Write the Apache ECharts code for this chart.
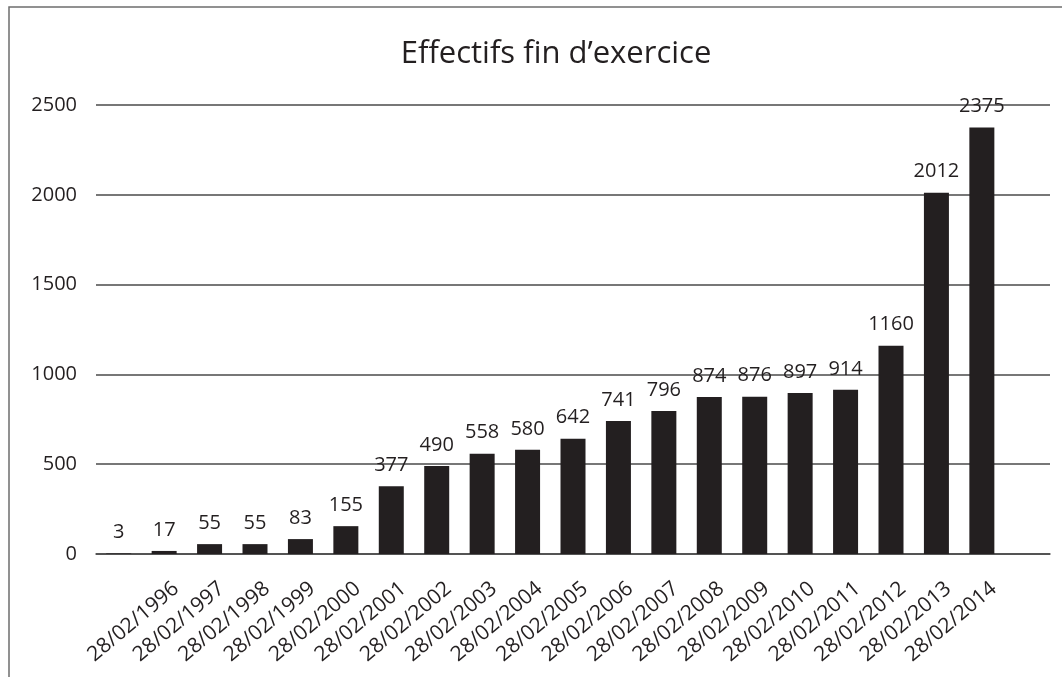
<!DOCTYPE html>
<html>
<head>
<meta charset="utf-8">
<title>Effectifs fin d'exercice</title>
<script src="https://cdn.jsdelivr.net/npm/echarts@6/dist/echarts.min.js"></script>
<style>
  html, body { margin: 0; padding: 0; background: #ffffff; }
  #chart { width: 1062px; height: 677px; }
</style>
</head>
<body>
<div id="chart"></div>
<script>
// Staff headcount at the end of each financial year
const categories = ['', '28/02/1996', '28/02/1997', '28/02/1998', '28/02/1999', '28/02/2000',
  '28/02/2001', '28/02/2002', '28/02/2003', '28/02/2004', '28/02/2005', '28/02/2006',
  '28/02/2007', '28/02/2008', '28/02/2009', '28/02/2010', '28/02/2011', '28/02/2012',
  '28/02/2013', '28/02/2014'];
const effectifs = [3, 17, 55, 55, 83, 155, 377, 490, 558, 580, 642, 741, 796, 874, 876,
  897, 914, 1160, 2012, 2375];
const yTicks = [0, 500, 1000, 1500, 2000, 2500];

const INK = '#231f20';
const FONT = '"Open Sans", "Noto Sans", sans-serif';

const chart = echarts.init(document.getElementById('chart'), null, { renderer: 'canvas' });

const plot = { left: 96, top: 105, width: 954, height: 449 };

chart.setOption({
  animation: false,
  backgroundColor: '#ffffff',
  title: {
    text: 'Effectifs fin d\u2019exercice',
    left: 551,
    top: 34,
    textAlign: 'center',
    textStyle: { fontFamily: FONT, fontSize: 31, fontWeight: 'normal', color: INK }
  },
  graphic: [{
    type: 'rect',
    shape: { x: 9, y: 7, width: 1200, height: 800 },
    style: { fill: null, stroke: '#6e6e6e', lineWidth: 1.5 },
    z: -1
  }],
  grid: [
    Object.assign({ outerBoundsMode: 'none' }, plot),
    // second grid only carries the rotated date labels
    Object.assign({ outerBoundsMode: 'none' }, plot, { left: plot.left + 12 })
  ],
  xAxis: [{
    type: 'category',
    gridIndex: 0,
    data: categories,
    max: categories.length,
    axisLine: { show: true, lineStyle: { color: '#4a4a4a', width: 1.5 } },
    axisTick: { show: false },
    axisLabel: { show: false },
    splitLine: { show: false }
  }, {
    type: 'category',
    gridIndex: 1,
    data: categories,
    max: categories.length,
    axisLine: { show: false },
    axisTick: { show: false },
    splitLine: { show: false },
    axisLabel: {
      interval: 0,
      rotate: 40,
      margin: 32,
      fontFamily: FONT,
      fontSize: 21,
      color: INK,
      formatter: (v, i) => categories[i] || ''
    }
  }],
  yAxis: [{
    type: 'value',
    gridIndex: 0,
    min: yTicks[0],
    max: yTicks[yTicks.length - 1],
    interval: 500,
    axisLine: { show: false },
    axisTick: { show: false },
    axisLabel: {
      margin: 19,
      fontFamily: FONT,
      fontSize: 20,
      color: INK,
      formatter: (v) => String(v)
    },
    splitLine: { show: true, lineStyle: { color: '#4a4a4a', width: 1.5 } }
  }, {
    type: 'value',
    gridIndex: 1,
    min: yTicks[0],
    max: yTicks[yTicks.length - 1],
    show: false
  }],
  series: [{
    type: 'bar',
    xAxisIndex: 0,
    yAxisIndex: 0,
    data: effectifs,
    barWidth: 25,
    itemStyle: { color: INK },
    label: {
      show: true,
      position: 'top',
      distance: 11,
      fontFamily: FONT,
      fontSize: 20,
      color: INK
    }
  }]
});
</script>
</body>
</html>
